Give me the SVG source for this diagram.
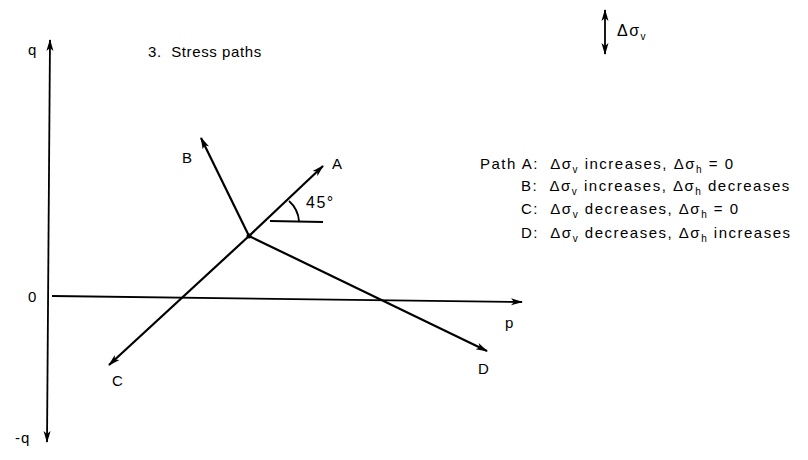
<svg xmlns="http://www.w3.org/2000/svg" width="808" height="460" viewBox="0 0 808 460">
<style>
text{font-family:"Liberation Sans",Arial,sans-serif;fill:#000;white-space:pre}
.t{font-size:15px;letter-spacing:1px}
.g{font-size:15px;letter-spacing:1.5px}
.b{font-size:16px;letter-spacing:1.5px}
.l{font-size:15px;letter-spacing:0.6px}
.s{font-size:10px}
.ln{stroke:#000;stroke-width:2.2;fill:none}
.ax{stroke:#000;stroke-width:1.8;fill:none}
</style>
<defs>
<marker id="ah" viewBox="0 0 12 8" refX="11" refY="4" markerWidth="12" markerHeight="8" markerUnits="userSpaceOnUse" orient="auto-start-reverse">
<path d="M0,0.5 L12,4 L0,7.5 L3,4 Z" fill="#000"/>
</marker>
</defs>
<rect width="808" height="460" fill="#fff"/>
<text class="l" x="148" y="57">3.  Stress paths</text>
<g id="legend-dsv">
<line class="ax" x1="605" y1="10" x2="605" y2="54" marker-start="url(#ah)" marker-end="url(#ah)"/>
<text class="b" x="617" y="36">Δσ<tspan class="s" dy="4">v</tspan></text>
</g>
<g id="axes">
<line class="ax" x1="47" y1="442" x2="50" y2="40" marker-start="url(#ah)" marker-end="url(#ah)"/>
<line class="ax" x1="52" y1="296" x2="522" y2="302" marker-end="url(#ah)"/>
<text class="t" x="28" y="55">q</text>
<text class="t" x="28" y="302">0</text>
<text class="t" x="15" y="443">-q</text>
<text class="t" x="505" y="328">p</text>
</g>
<g id="connectors">
<line class="ln" x1="249" y1="236" x2="323" y2="166" marker-end="url(#ah)"/>
<line class="ln" x1="249" y1="236" x2="201" y2="138" marker-end="url(#ah)"/>
<line class="ln" x1="249" y1="236" x2="109" y2="365" marker-end="url(#ah)"/>
<line class="ln" x1="249" y1="236" x2="487" y2="351" marker-end="url(#ah)"/>
<line class="ax" x1="270" y1="221" x2="323" y2="222" stroke-width="1.5"/>
<path class="ax" d="M289,201 A30,30 0 0 1 299,221" stroke-width="1.5"/>
<circle cx="249" cy="236" r="2.5" fill="#000"/>
</g>
<g id="node-A"><text class="t" x="332" y="169">A</text></g>
<g id="node-B"><text class="t" x="182" y="163">B</text></g>
<g id="node-C"><text class="t" x="112" y="386">C</text></g>
<g id="node-D"><text class="t" x="478" y="374">D</text></g>
<g id="angle"><text class="b" x="306" y="208">45°</text></g>
<g id="legend">
<text class="g" x="480" y="169">Path A:  Δσ<tspan class="s" dy="4">v</tspan><tspan dy="-4"> increases, Δσ</tspan><tspan class="s" dy="4">h</tspan><tspan dy="-4"> = 0</tspan></text>
<text class="g" x="521" y="191">B:  Δσ<tspan class="s" dy="4">v</tspan><tspan dy="-4"> increases, Δσ</tspan><tspan class="s" dy="4">h</tspan><tspan dy="-4"> decreases</tspan></text>
<text class="g" x="521" y="214">C:  Δσ<tspan class="s" dy="4">v</tspan><tspan dy="-4"> decreases, Δσ</tspan><tspan class="s" dy="4">h</tspan><tspan dy="-4"> = 0</tspan></text>
<text class="g" x="521" y="238">D:  Δσ<tspan class="s" dy="4">v</tspan><tspan dy="-4"> decreases, Δσ</tspan><tspan class="s" dy="4">h</tspan><tspan dy="-4"> increases</tspan></text>
</g>
</svg>
